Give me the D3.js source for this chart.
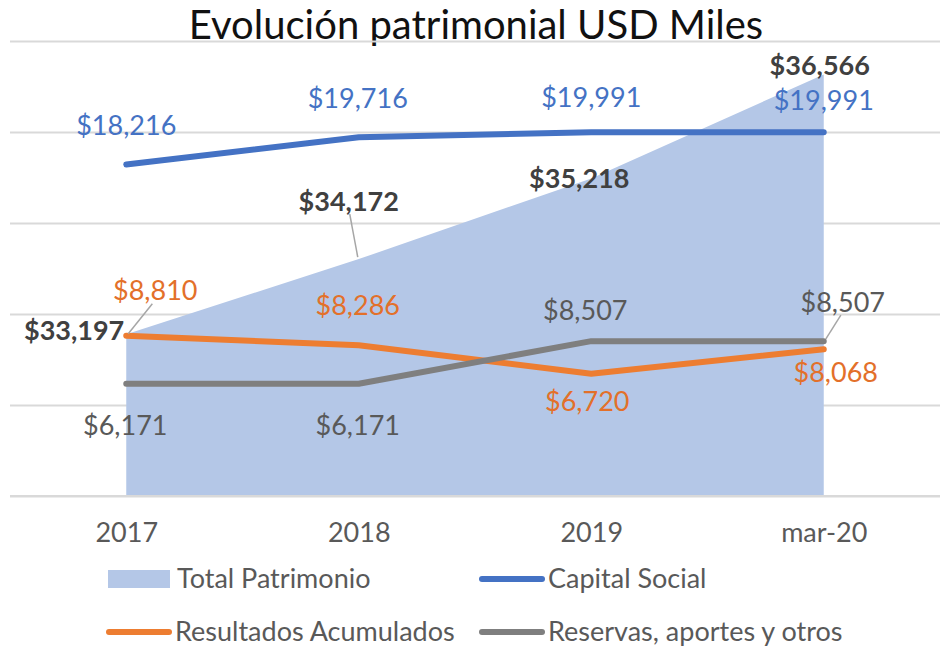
<!DOCTYPE html>
<html>
<head>
<meta charset="utf-8">
<script src="https://cdn.jsdelivr.net/npm/d3@7/dist/d3.min.js"></script>
<style>
  body { margin: 0; background: #fff; }
  svg { display: block; font-family: Lato, "Open Sans", sans-serif; }
</style>
</head>
<body>
<div id="chart"></div>
<script>
// chart data
var categories = ["2017", "2018", "2019", "mar-20"];
var totalPatrimonio = [33197, 34172, 35218, 36566];
var capitalSocial = [18216, 19716, 19991, 19991];
var resultadosAcumulados = [8810, 8286, 6720, 8068];
var reservasOtros = [6171, 6171, 8507, 8507];
var gridTicks = [0, 5000, 10000, 15000, 20000, 25000];

var width = 949, height = 650;
var margin = {top: 41, right: 9, bottom: 154, left: 10};
var innerW = width - margin.left - margin.right,
    innerH = height - margin.top - margin.bottom;

var svg = d3.select("#chart")
  .append("svg")
  .attr("width", width)
  .attr("height", height);

svg.append("text")
  .attr("x", 476)
  .attr("y", 39)
  .attr("text-anchor", "middle")
  .style("font-size", "40px")
  .style("fill", "#111")
  .text("Evolución patrimonial USD Miles");

var g = svg.append("g")
  .attr("transform", "translate(" + margin.left + "," + margin.top + ")");

var x = d3.scalePoint()
  .domain(categories)
  .range([0, innerW])
  .padding(0.5);

// primary axis (lines)
var y = d3.scaleLinear()
  .domain([0, 25000])
  .range([innerH, 0]);

// secondary axis (area), hidden
var y2 = d3.scaleLinear()
  .domain([31100, 37000])
  .range([innerH, 0]);

// gridlines
g.append("g")
  .attr("class", "grid")
  .call(d3.axisLeft(y).tickValues(gridTicks).tickSize(-innerW).tickFormat(""))
  .call(function(s) {
    s.select(".domain").remove();
    s.selectAll("line").attr("stroke", "#d9d9d9").attr("stroke-width", 2);
  });

// area
var area = d3.area()
  .x(function(d, i) { return x(categories[i]); })
  .y0(innerH)
  .y1(function(d) { return y2(d); });

g.append("path")
  .datum(totalPatrimonio)
  .attr("d", area)
  .attr("fill", "#b4c7e7");

// bottom axis
var xAxis = g.append("g")
  .attr("transform", "translate(0," + innerH + ")")
  .call(d3.axisBottom(x).tickSize(0).tickPadding(27));
xAxis.select(".domain").attr("stroke", "#d9d9d9").attr("stroke-width", 2)
  .attr("d", "M0,0H" + innerW);
xAxis.selectAll("text")
  .style("font-family", "Lato, sans-serif")
  .style("font-size", "27px")
  .style("fill", "#595959");

var series = [
  {name: "Capital Social", values: capitalSocial, color: "#4472c4"},
  {name: "Resultados Acumulados", values: resultadosAcumulados, color: "#ed7d31"},
  {name: "Reservas, aportes y otros", values: reservasOtros, color: "#7f7f7f"}
];

var line = d3.line()
  .x(function(d, i) { return x(categories[i]); })
  .y(function(d) { return y(d); });

series.forEach(function(s) {
  g.append("path")
    .datum(s.values)
    .attr("d", line)
    .attr("fill", "none")
    .attr("stroke", s.color)
    .attr("stroke-width", 6)
    .attr("stroke-linecap", "round")
    .attr("stroke-linejoin", "round");
});

// label offsets relative to each point: [dx, dy, anchor, leader]
var fmt = function(v) { return "$" + d3.format(",")(v); };

var labelSets = [
  {values: totalPatrimonio, scale: y2, color: "#404040", bold: true,
   offs: [[-2, -4, "end"], [-10, -58, "middle", true], [-12, 0, "middle"], [-4, -9, "middle"]]},
  {values: capitalSocial, scale: y, color: "#4472c4",
   offs: [[0, -39, "middle"], [-1, -39, "middle"], [0, -35, "middle"], [0, -32, "middle"]]},
  {values: resultadosAcumulados, scale: y, color: "#e3702a",
   offs: [[29, -45, "middle", true], [-1, -40, "middle"], [-4, 28, "middle"], [12, 23, "middle"]]},
  {values: reservasOtros, scale: y, color: "#595959",
   offs: [[-1, 42, "middle"], [-1, 42, "middle"], [-6, -31, "middle"], [19, -39, "middle", true]]}
];

labelSets.forEach(function(ls) {
  ls.values.forEach(function(v, i) {
    var px = x(categories[i]), py = ls.scale(v), o = ls.offs[i];
    if (o[3]) {
      g.append("line")
        .attr("x1", px + o[0] * 0.9)
        .attr("y1", py + o[1] + 13)
        .attr("x2", px + (o[0] > 0 ? 2 : -1))
        .attr("y2", py - 2)
        .attr("stroke", "#a6a6a6")
        .attr("stroke-width", 1.5);
    }
    g.append("text")
      .attr("x", px + o[0])
      .attr("y", py + o[1])
      .attr("dy", "0.35em")
      .attr("text-anchor", o[2])
      .style("font-size", "27px")
      .style("font-weight", ls.bold ? "bold" : "normal")
      .style("fill", ls.color)
      .text(fmt(v));
  });
});

// legend
var legendItems = [
  {name: "Total Patrimonio", color: "#b4c7e7", type: "area", x: 108, y: 579},
  {name: "Capital Social", color: "#4472c4", type: "line", x: 479, y: 579},
  {name: "Resultados Acumulados", color: "#ed7d31", type: "line", x: 106, y: 632},
  {name: "Reservas, aportes y otros", color: "#7f7f7f", type: "line", x: 479, y: 632}
];

var legend = svg.append("g").attr("class", "legend");
legendItems.forEach(function(d) {
  var item = legend.append("g").attr("transform", "translate(" + d.x + "," + d.y + ")");
  if (d.type === "area") {
    item.append("rect")
      .attr("x", 0).attr("y", -9)
      .attr("width", 62).attr("height", 18)
      .attr("fill", d.color);
  } else {
    item.append("line")
      .attr("x1", 3).attr("x2", 63)
      .attr("y1", 0).attr("y2", 0)
      .attr("stroke", d.color)
      .attr("stroke-width", 6)
      .attr("stroke-linecap", "round");
  }
  item.append("text")
    .attr("x", 69)
    .attr("dy", "0.35em")
    .style("font-size", "27px")
    .style("fill", "#595959")
    .text(d.name);
});
</script>
</body>
</html>
